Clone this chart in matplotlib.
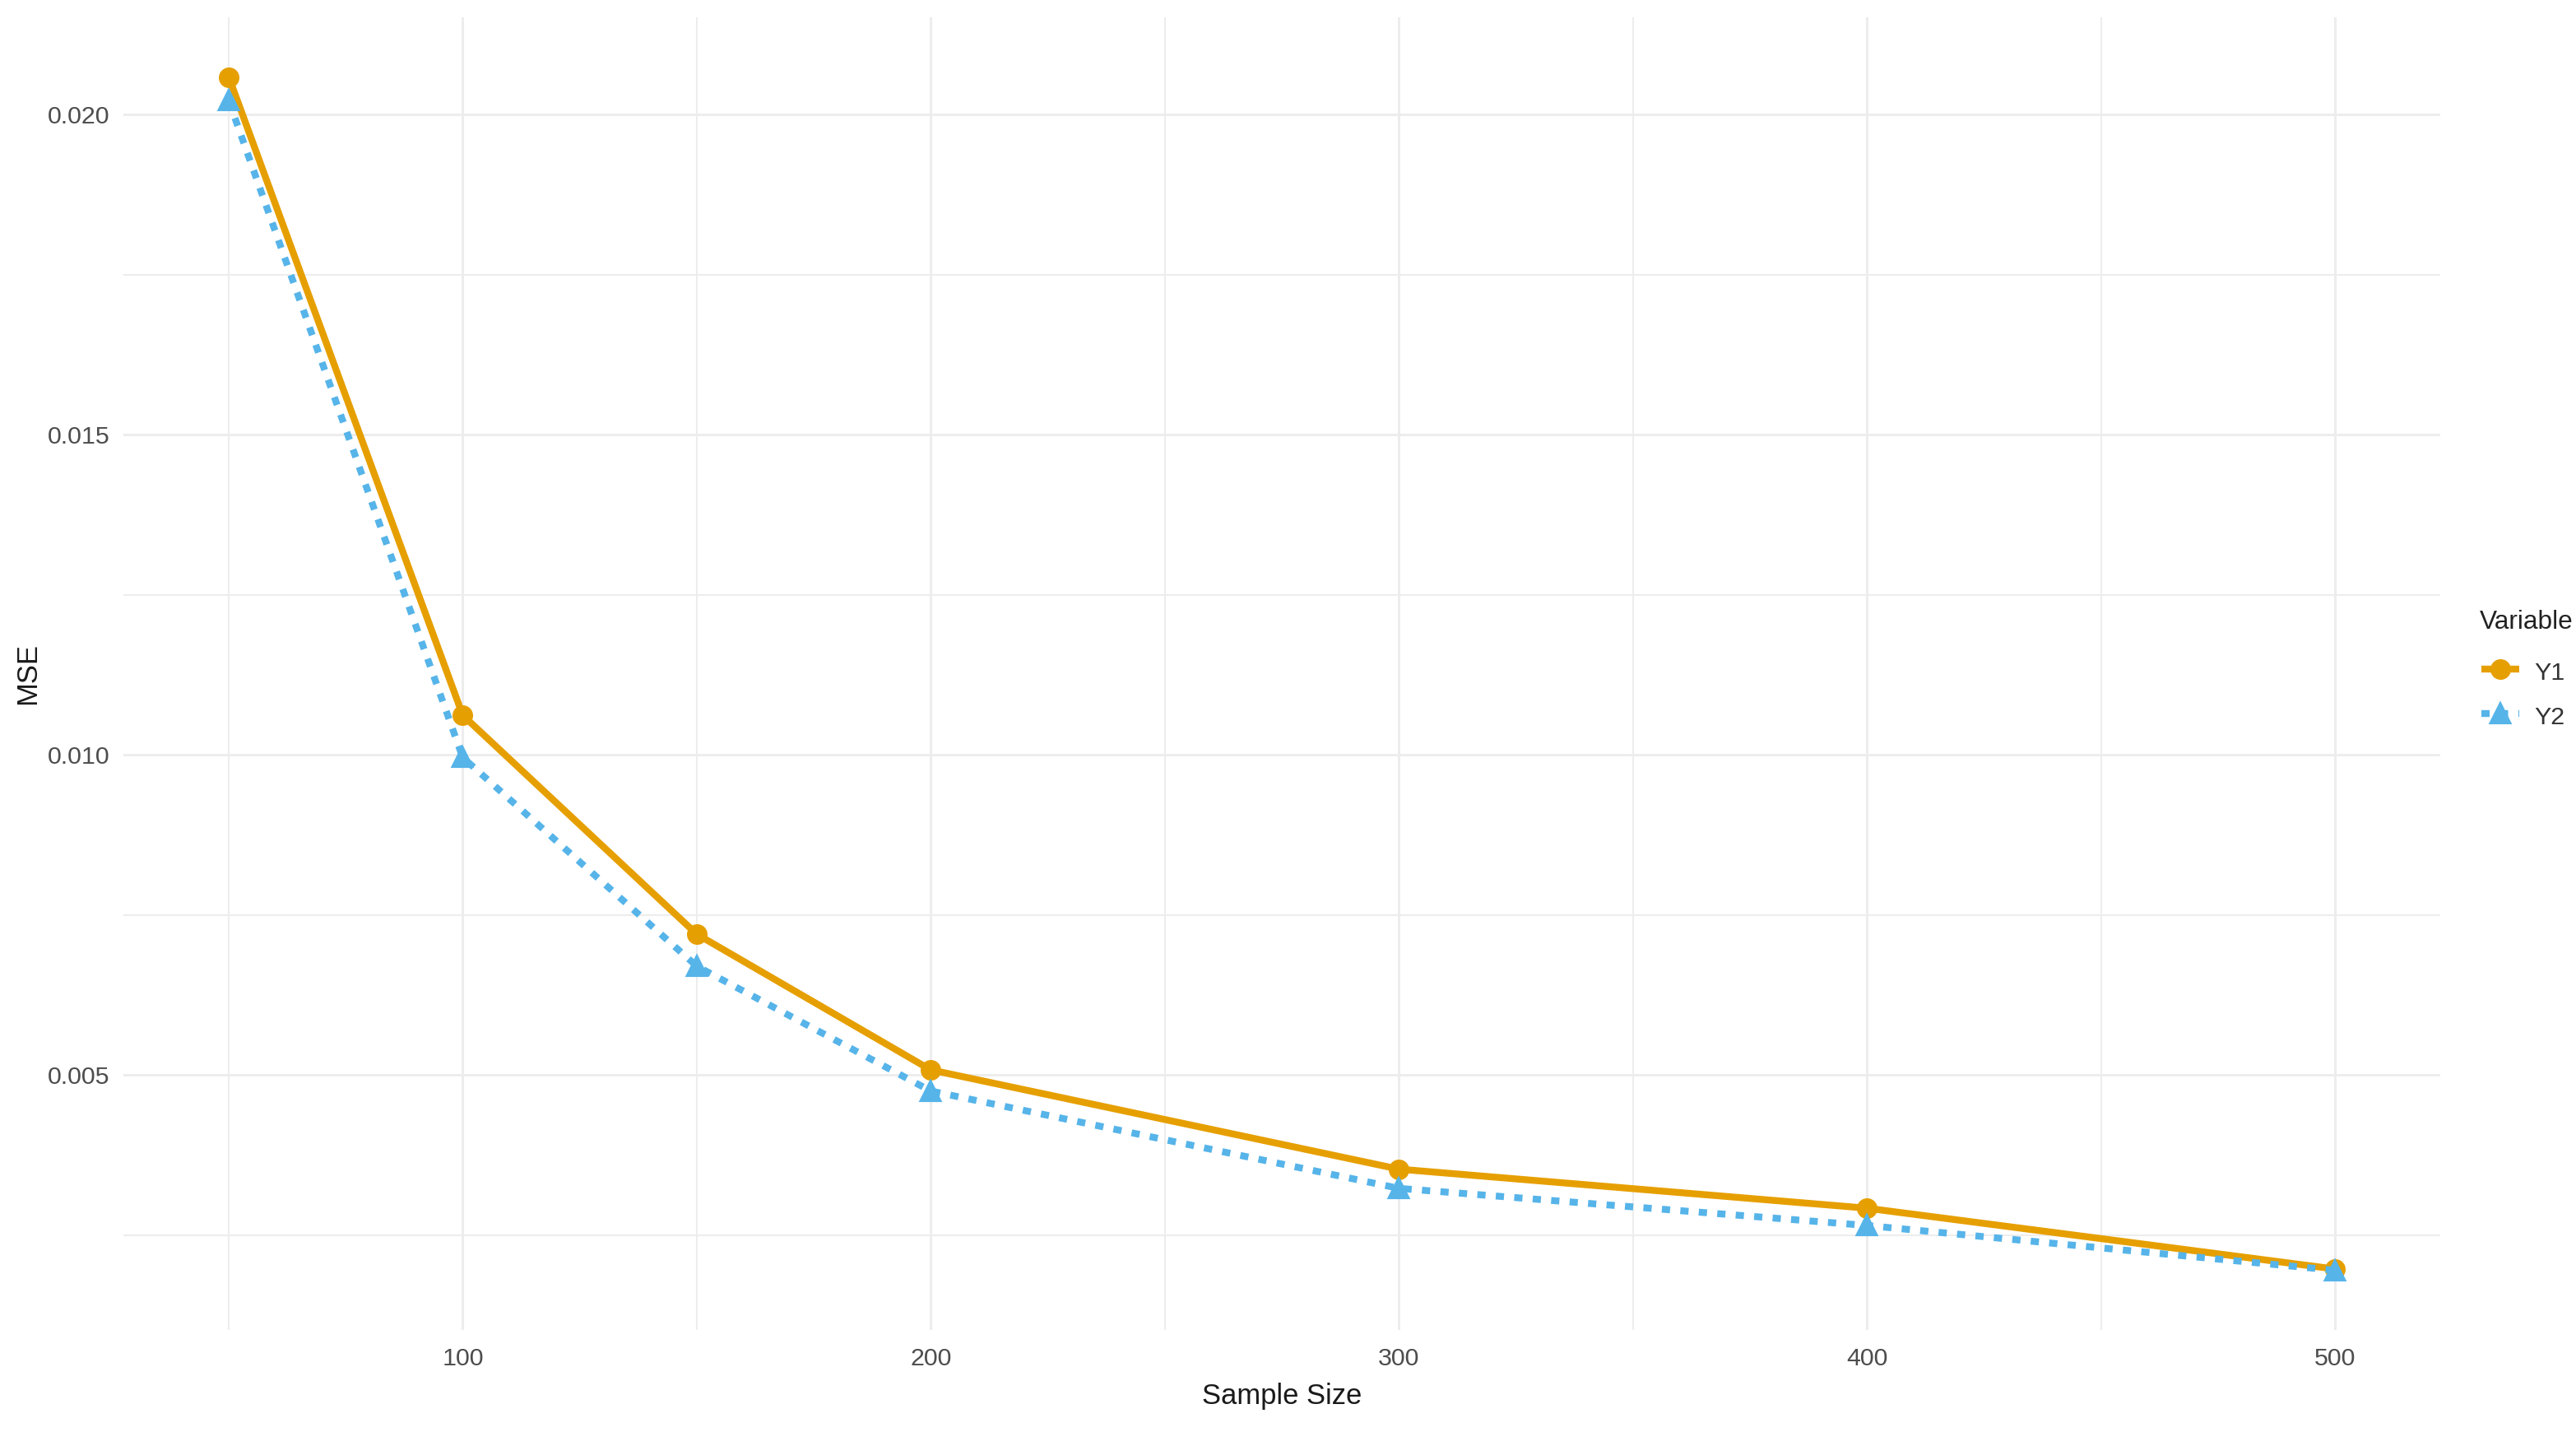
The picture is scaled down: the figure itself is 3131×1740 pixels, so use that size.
import numpy as np
import matplotlib
matplotlib.use("Agg")
import matplotlib.pyplot as plt
import matplotlib.ticker as ticker

plt.rcParams['font.family'] = ['Liberation Sans', 'DejaVu Sans']

# values
sample_size = [50, 100, 150, 200, 300, 400, 500]
mse_y1 = [0.02059, 0.01062, 0.00720, 0.00508, 0.00353, 0.00292, 0.00197]
mse_y2 = [0.02022, 0.00996, 0.00670, 0.00475, 0.00323, 0.00265, 0.00195]
series_names = ["Y1", "Y2"]

W, H, DPI = 3131, 1740, 300
fig = plt.figure(figsize=(W / DPI, H / DPI), dpi=DPI)
ax = fig.add_axes([150 / W, 1 - 1616 / H, (2966 - 150) / W, (1616 - 21) / H])

grid_col = "#EDEDED"

# ggplot-like 5% expansion
xr = max(sample_size) - min(sample_size)
ax.set_xlim(min(sample_size) - 0.05 * xr, max(sample_size) + 0.05 * xr)
allv = mse_y1 + mse_y2
yr = max(allv) - min(allv)
ax.set_ylim(min(allv) - 0.05 * yr, max(allv) + 0.05 * yr)

ax.xaxis.set_major_locator(ticker.MultipleLocator(100))
ax.xaxis.set_minor_locator(ticker.MultipleLocator(50))
ax.yaxis.set_major_locator(ticker.MultipleLocator(0.005))
ax.yaxis.set_minor_locator(ticker.MultipleLocator(0.0025))
ax.yaxis.set_major_formatter(ticker.FormatStrFormatter("%.3f"))

ax.grid(True, which="major", color=grid_col, linewidth=0.7)
ax.grid(True, which="minor", color=grid_col, linewidth=0.5)
ax.set_axisbelow(True)
for s in ax.spines.values():
    s.set_visible(False)
ax.tick_params(which="both", length=0)
ax.tick_params(axis="x", labelsize=7.3, labelcolor="#4D4D4D", pad=5)
ax.tick_params(axis="y", labelsize=7.3, labelcolor="#4D4D4D", pad=4)

ax.plot(sample_size, mse_y1, color="#E69F00", linewidth=2.0, marker="o",
        markersize=5.0, label=series_names[0], solid_capstyle="butt")
ax.plot(sample_size, mse_y2, color="#56B4E9", linewidth=2.0, marker="^",
        markersize=5.4, linestyle=(0, (1.2, 1.5)), label=series_names[1])

ax.set_xlabel("Sample Size", fontsize=8.3, color="#1A1A1A")
ax.set_ylabel("MSE", fontsize=8.3, color="#1A1A1A")
ax.xaxis.set_label_coords(0.5, -(1680 - 1616) / 1595)
ax.yaxis.set_label_coords(-(150 - 50) / 2816, 0.5)

# legend: title as its own text, entries below
fig.text(3014 / W, 1 - 756 / H, "Variable", fontsize=7.6, color="#222222",
         ha="left", va="center")
leg = fig.legend(loc="upper left", bbox_to_anchor=(3016 / W, 1 - 801 / H),
                 frameon=False, fontsize=7.3, handlelength=1.5,
                 handletextpad=0.6, handleheight=1.1, labelspacing=0.75,
                 borderpad=0, borderaxespad=0)
for t in leg.get_texts():
    t.set_color("#333333")

plt.savefig("out.png", dpi=DPI)
